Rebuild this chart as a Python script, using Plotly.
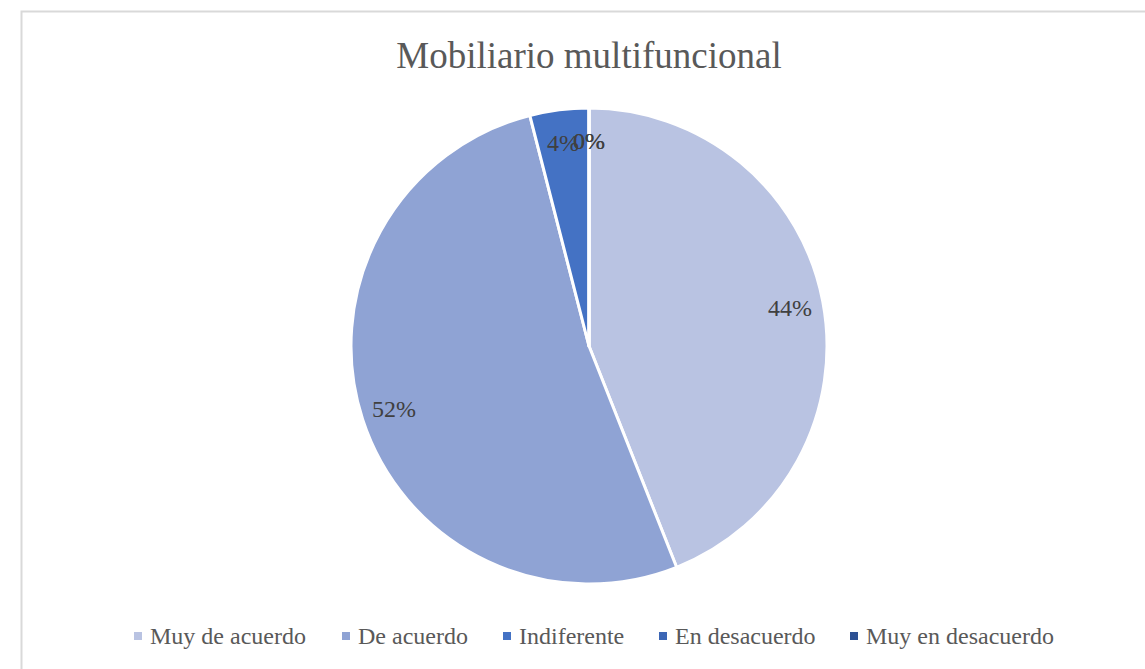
import math
import plotly.graph_objects as go

# Survey responses (number of respondents per option)
categories = ["Muy de acuerdo", "De acuerdo", "Indiferente", "En desacuerdo", "Muy en desacuerdo"]
responses = [11, 13, 1, 0, 0]
slice_colors = ["#B9C3E2", "#8FA3D4", "#4472C4", "#3C66B5", "#2D5193"]

W, H = 1145, 669
CX, CY, R = 589, 346, 238          # pie centre and radius in pixels
LABEL_R = 0.86                       # radial position of the percentage labels
FONT = "Liberation Serif, Times New Roman, serif"

# Legend layout (pixel x of each square marker, common baseline)
legend_x = [138, 346, 507, 663, 854]
legend_y = 636

fig = go.Figure(go.Pie(
    labels=categories,
    values=responses,
    sort=False,
    direction="clockwise",
    rotation=0,
    marker=dict(colors=slice_colors, line=dict(color="white", width=3)),
    textinfo="none",
    hoverinfo="label+percent",
    showlegend=False,
    domain=dict(x=[(CX - R) / W, (CX + R) / W], y=[(H - CY - R) / H, (H - CY + R) / H]),
))

# Percentage labels placed along each slice's mid-angle
total = sum(responses)
cum = 0
annotations = []
for cat, v in zip(categories, responses):
    frac = v / total
    mid = (cum + frac / 2) * 2 * math.pi
    cum += frac
    px = CX + LABEL_R * R * math.sin(mid)
    py = CY - LABEL_R * R * math.cos(mid)
    annotations.append(dict(
        x=px / W, y=1 - py / H, xref="paper", yref="paper",
        text=f"{round(frac * 100)}%", showarrow=False,
        font=dict(family=FONT, size=24, color="#404040"),
        xanchor="center", yanchor="middle",
    ))

# Legend: small coloured squares with category names
shapes = [dict(type="rect", xref="paper", yref="paper",
               x0=21.5 / W, x1=1160 / W, y0=1 - 690 / H, y1=1 - 11.5 / H,
               line=dict(color="#D9D9D9", width=2), fillcolor="rgba(0,0,0,0)")]
for cat, col, lx in zip(categories, slice_colors, legend_x):
    shapes.append(dict(type="rect", xref="paper", yref="paper",
                       x0=(lx - 4) / W, x1=(lx + 4) / W,
                       y0=1 - (legend_y + 4) / H, y1=1 - (legend_y - 4) / H,
                       line=dict(width=0), fillcolor=col))
    annotations.append(dict(
        x=(lx + 10) / W, y=1 - legend_y / H, xref="paper", yref="paper",
        text=cat, showarrow=False, xanchor="left", yanchor="middle",
        font=dict(family=FONT, size=24, color="#595959"),
    ))

fig.update_layout(
    width=W, height=H,
    margin=dict(l=0, r=0, t=0, b=0),
    paper_bgcolor="white",
    plot_bgcolor="white",
    title=dict(text="Mobiliario multifuncional", x=CX / W, xanchor="center",
               y=1 - 55 / H, yanchor="middle",
               font=dict(family=FONT, size=37, color="#595959")),
    annotations=annotations,
    shapes=shapes,
)

fig.write_html("out.html")
